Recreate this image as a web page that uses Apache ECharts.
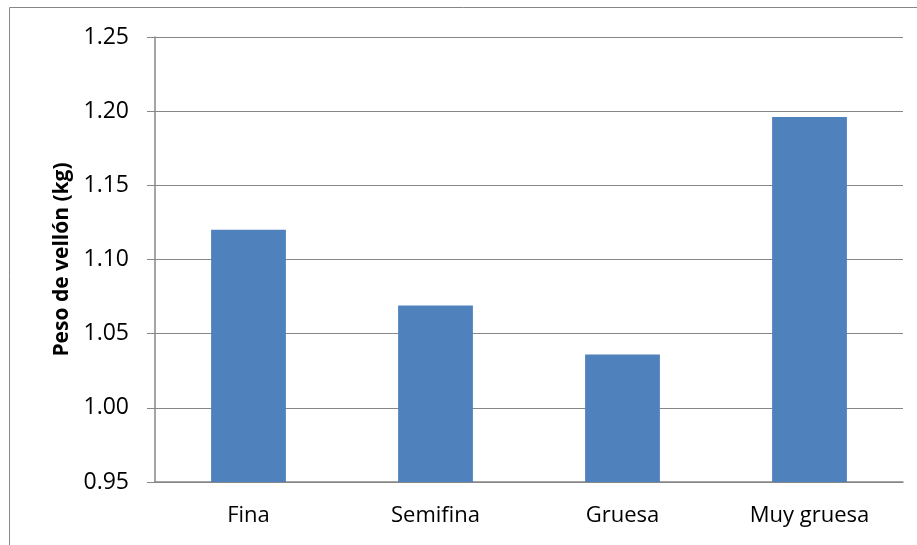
<!DOCTYPE html>
<html>
<head>
<meta charset="utf-8">
<script src="https://cdn.jsdelivr.net/npm/echarts@6/dist/echarts.min.js"></script>
<style>
  html, body { margin: 0; padding: 0; background: #fff; }
  #chart { width: 917px; height: 545px; }
</style>
</head>
<body>
<div id="chart"></div>
<script>
// Fleece weight by fibre fineness class
const categories = ['Fina', 'Semifina', 'Gruesa', 'Muy gruesa'];
const pesoVellon = [1.120, 1.069, 1.036, 1.196];
const yTicks = { min: 0.95, max: 1.25, interval: 0.05 };

const chart = echarts.init(document.getElementById('chart'), null, { renderer: 'canvas' });
const font = '"Open Sans", "Noto Sans", sans-serif';
const gray = '#878787';

chart.setOption({
  animation: false,
  graphic: [{
    type: 'rect',
    shape: { x: 9.5, y: 7.5, width: 920, height: 560 },
    style: { fill: 'none', stroke: gray, lineWidth: 1 },
    silent: true
  }],
  grid: { left: 155, right: 14, top: 37, bottom: 63 },
  xAxis: {
    type: 'category',
    data: categories,
    axisLine: { lineStyle: { color: gray, width: 1.5 } },
    axisTick: { show: false },
    axisLabel: { color: '#000', fontFamily: font, fontSize: 22, margin: 23 }
  },
  yAxis: {
    type: 'value',
    min: yTicks.min,
    max: yTicks.max,
    interval: yTicks.interval,
    name: 'Peso de vellón (kg)',
    nameLocation: 'middle',
    nameGap: 82,
    nameTextStyle: { color: '#000', fontFamily: font, fontSize: 21, fontWeight: 'bold' },
    axisLine: { show: true, lineStyle: { color: gray, width: 1.5 } },
    axisTick: { show: true, length: 8, lineStyle: { color: gray } },
    axisLabel: {
      color: '#000', fontFamily: font, fontSize: 23, margin: 26,
      formatter: v => v.toFixed(2)
    },
    splitLine: { lineStyle: { color: gray, width: 1 } }
  },
  series: [{
    type: 'bar',
    data: pesoVellon,
    barWidth: '40%',
    itemStyle: { color: '#4F81BD' }
  }]
});
</script>
</body>
</html>
